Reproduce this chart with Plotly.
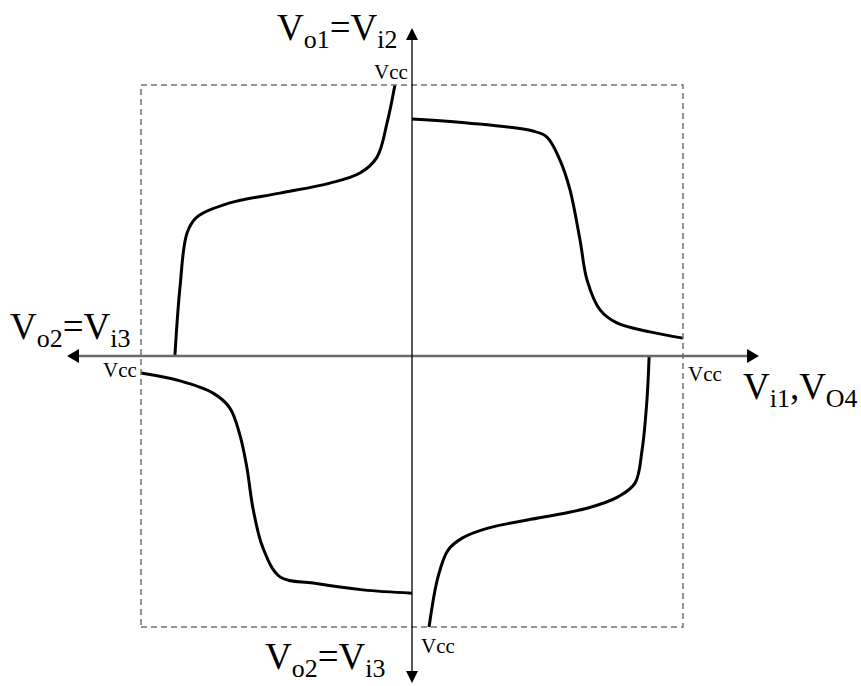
import plotly.graph_objects as go

# Transfer curves of the four-inverter ring, normalised to Vcc = 1
q1_x = [0.0, 0.203, 0.446, 0.498, 0.546, 0.583, 0.620, 0.646, 0.694, 0.756, 0.878, 1.0]
q1_y = [0.875, 0.860, 0.830, 0.808, 0.723, 0.613, 0.428, 0.280, 0.170, 0.122, 0.089, 0.066]

q2_x = [-0.875, -0.856, -0.830, -0.793, -0.672, -0.487, -0.303, -0.192, -0.129, -0.092, -0.063]
q2_y = [0.0, 0.255, 0.454, 0.513, 0.565, 0.601, 0.638, 0.675, 0.734, 0.860, 1.0]

q3_x = [-1.0, -0.856, -0.734, -0.672, -0.635, -0.609, -0.587, -0.550, -0.487, -0.365, -0.181, 0.0]
q3_y = [-0.063, -0.092, -0.137, -0.192, -0.292, -0.413, -0.561, -0.708, -0.815, -0.838, -0.863, -0.875]

q4_x = [0.063, 0.096, 0.133, 0.185, 0.280, 0.465, 0.649, 0.760, 0.823, 0.849, 0.867, 0.875]
q4_y = [-1.0, -0.815, -0.716, -0.672, -0.635, -0.598, -0.561, -0.520, -0.469, -0.347, -0.162, 0.0]

VCC = 1.0

W, H = 861, 686
OX, OY, S = 412, 356, 271  # origin in pixels and pixels per Vcc


def dx(p):
    return (p - OX) / S


def dy(p):
    return (OY - p) / S


fig = go.Figure()
for xs, ys in [(q1_x, q1_y), (q2_x, q2_y), (q3_x, q3_y), (q4_x, q4_y)]:
    fig.add_trace(go.Scatter(x=xs, y=ys, mode="lines",
                             line=dict(color="black", width=3, shape="spline", smoothing=1.0),
                             hoverinfo="skip", showlegend=False))

shapes = []
# dashed Vcc box
shapes.append(dict(type="rect", x0=-VCC, x1=VCC, y0=-VCC, y1=VCC,
                   line=dict(color="#707070", width=1.5, dash="6px,4px")))
# horizontal axis
shapes.append(dict(type="line", x0=dx(78), x1=dx(750), y0=0, y1=0,
                   line=dict(color="#6a6a6a", width=2.5)))
# vertical axis
shapes.append(dict(type="line", x0=0, x1=0, y0=dy(36), y1=dy(676),
                   line=dict(color="black", width=1.3)))


def tri(tip, base1, base2):
    return dict(type="path",
                path=f"M {tip[0]},{tip[1]} L {base1[0]},{base1[1]} L {base2[0]},{base2[1]} Z",
                fillcolor="black", line=dict(color="black", width=0))


shapes.append(tri((dx(759), 0), (dx(747), dy(349)), (dx(747), dy(363))))
shapes.append(tri((dx(67), 0), (dx(79), dy(349)), (dx(79), dy(363))))
shapes.append(tri((0, dy(28)), (dx(406), dy(40)), (dx(418), dy(40))))
shapes.append(tri((0, dy(683)), (dx(406), dy(671)), (dx(418), dy(671))))

FONT = "Liberation Serif, Times New Roman, serif"
big = dict(family=FONT, size=37, color="black")
small = dict(family=FONT, size=21, color="black")

annotations = [
    dict(text="V<sub>o1</sub>=V<sub>i2</sub>", x=dx(399), y=dy(30), xanchor="right", yanchor="middle", font=big),
    dict(text="V<sub>o2</sub>=V<sub>i3</sub>", x=dx(8), y=dy(329), xanchor="left", yanchor="middle", font=big),
    dict(text="V<sub>i1</sub>,V<sub>O4</sub>", x=dx(741), y=dy(389), xanchor="left", yanchor="middle", font=big),
    dict(text="V<sub>o2</sub>=V<sub>i3</sub>", x=dx(387), y=dy(659), xanchor="right", yanchor="middle", font=big),
    dict(text="Vcc", x=dx(410), y=dy(72), xanchor="right", yanchor="middle", font=small),
    dict(text="Vcc", x=dx(139), y=dy(370), xanchor="right", yanchor="middle", font=small),
    dict(text="Vcc", x=dx(686), y=dy(374), xanchor="left", yanchor="middle", font=small),
    dict(text="Vcc", x=dx(419), y=dy(646), xanchor="left", yanchor="middle", font=small),
]
for a in annotations:
    a.update(showarrow=False, xref="x", yref="y")

fig.update_layout(
    width=W, height=H,
    margin=dict(l=0, r=0, t=0, b=0, pad=0),
    paper_bgcolor="white", plot_bgcolor="white",
    xaxis=dict(range=[dx(0), dx(W)], visible=False, fixedrange=True),
    yaxis=dict(range=[dy(H), dy(0)], visible=False, fixedrange=True),
    shapes=shapes, annotations=annotations,
    showlegend=False,
)

fig.write_html("out.html")
